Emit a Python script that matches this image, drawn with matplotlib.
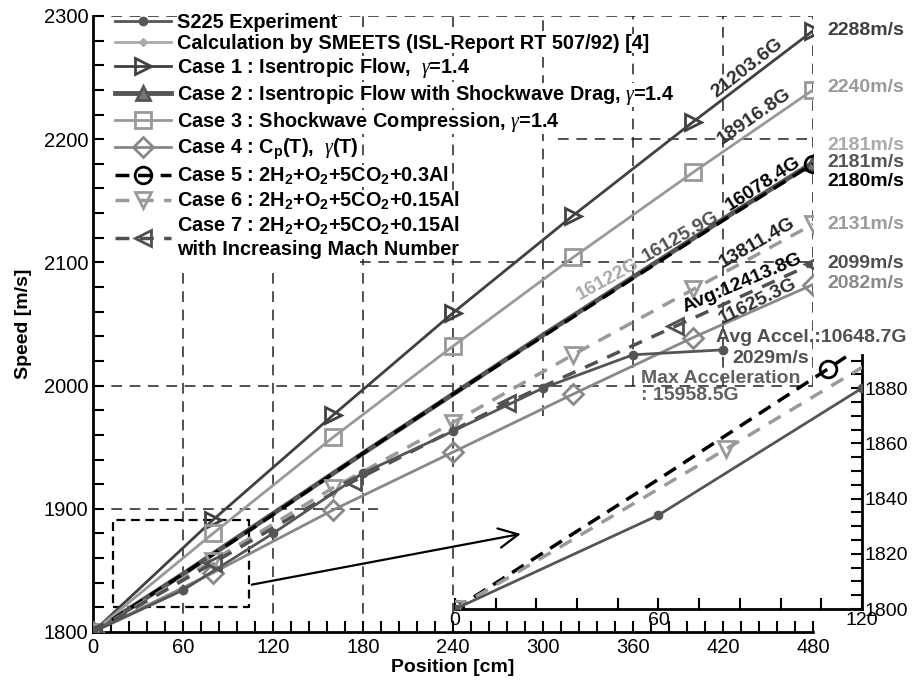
import numpy as np
import matplotlib.pyplot as plt
from matplotlib.ticker import MultipleLocator

plt.rcParams['font.family'] = ['Liberation Sans', 'DejaVu Sans']
plt.rcParams['mathtext.fontset'] = 'custom'
plt.rcParams['mathtext.rm'] = 'Liberation Sans:bold'
plt.rcParams['mathtext.it'] = 'Liberation Serif:italic'
plt.rcParams['mathtext.default'] = 'rm'

# Data
s225_x = [0, 60, 120, 180, 240, 300, 360, 420]
s225_v = [1800, 1834, 1880, 1929, 1963, 1998, 2025, 2029]

smeets_x = [0, 60, 120, 180, 240, 300, 360, 420, 480]
smeets_v = [1800, 1848, 1897, 1946, 1994, 2041, 2088, 2135, 2181]

case_x = [0, 80, 160, 240, 320, 400, 480]
case1_v = [1800, 1891, 1976, 2059, 2138, 2214, 2288]
case3_v = [1800, 1880, 1958, 2032, 2104, 2173, 2240]
case4_v = [1800, 1848, 1899, 1946, 1993, 2039, 2082]
case6_v = [1800, 1858, 1917, 1970, 2025, 2078, 2131]

case2_x = [0, 60, 120, 180, 240, 300, 360, 420, 480]
case2_v = [1800, 1847, 1896, 1945, 1993, 2041, 2088, 2135, 2181]

case5_x = [0, 60, 110, 180, 240, 300, 360, 420, 480]
case5_v = [1800, 1847, 1887, 1945, 1993, 2040, 2087, 2134, 2180]

case7_x = [0, 80, 173, 276, 388, 480]
case7_v = [1800, 1856, 1922, 1986, 2048, 2099]

labels = ['S225 Experiment',
          'Calculation by SMEETS (ISL-Report RT 507/92) [4]',
          'Case 1 : Isentropic Flow,  $\\mathit{\\gamma}$=1.4',
          'Case 2 : Isentropic Flow with Shockwave Drag, $\\mathit{\\gamma}$=1.4',
          'Case 3 : Shockwave Compression, $\\mathit{\\gamma}$=1.4',
          'Case 4 : C$_p$(T),  $\\mathit{\\gamma}$(T)',
          'Case 5 : 2H$_2$+O$_2$+5CO$_2$+0.3Al',
          'Case 6 : 2H$_2$+O$_2$+5CO$_2$+0.15Al',
          'Case 7 : 2H$_2$+O$_2$+5CO$_2$+0.15Al\nwith Increasing Mach Number']

# acceleration labels: text, position, rotation, colour
accel_text = ['21203.6G', '18916.8G', '16078.4G', '16125.9G', '16122G',
              '13811.4G', 'Avg:12413.8G', '11625.3G']
accel_pos = [(436, 2258), (441, 2218), (447, 2164), (392, 2121), (343, 2086),
             (443, 2116), (433, 2083), (443, 2068)]
accel_rot = [38, 35, 33, 30, 29, 30, 23, 26]
accel_col = ['#303030', '#303030', '#000000', '#505050', '#a8a8a8',
             '#202020', '#000000', '#303030']

c_s225 = '#555555'
c_smeets = '#aaaaaa'
c_case1 = '#404040'
c_case2 = '#555555'
c_case3 = '#999999'
c_case4 = '#888888'
c_case5 = '#000000'
c_case6 = '#9a9a9a'
c_case7 = '#505050'

fig = plt.figure(figsize=(9.14, 6.83), dpi=100)
ax = fig.add_axes([0.1018, 0.0747, 0.7877, 0.9019])

# partial dashed grid like the original
grid_kw = dict(color='#222222', lw=1.1, ls=(0, (7, 5)), zorder=1)
ax.hlines(1900, 0, 190, **grid_kw)
ax.hlines(2000, 0, 480, **grid_kw)
ax.hlines(2100, 178, 480, **grid_kw)
ax.hlines(2200, 310, 480, **grid_kw)
ax.hlines(2300, 0, 480, **grid_kw)
ax.vlines([60, 120], 1800, 2095, **grid_kw)
ax.vlines([180, 240], 1800, 2300, **grid_kw)
ax.vlines(300, 1975, 2300, **grid_kw)
ax.vlines([360, 420, 480], 2000, 2300, **grid_kw)

def draw_s225(a):
    a.plot(s225_x, s225_v, '-o', color=c_s225, lw=2, ms=6, label=labels[0], zorder=5)

def draw_case5(a, every):
    a.plot(case5_x, case5_v, ls=(0, (4, 2.5)), marker='o', color=c_case5, lw=2.5, ms=12,
           mfc='none', mew=2, markevery=every, label=labels[6], zorder=4)

def draw_case6(a):
    a.plot(case_x, case6_v, ls=(0, (4, 3)), marker='v', color=c_case6, lw=2.5, ms=11,
           mfc='none', mew=2, label=labels[7], zorder=4)

draw_s225(ax)
ax.plot(smeets_x, smeets_v, '-D', color=c_smeets, lw=2, ms=4, markevery=[0, -1],
        label=labels[1], zorder=3)
ax.plot(case_x, case1_v, '-', marker='>', color=c_case1, lw=2, ms=11, mfc='none',
        mew=2, label=labels[2], zorder=4)
ax.plot(case2_x, case2_v, '-', marker='^', color=c_case2, lw=3.5, ms=10, mfc='#777777',
        mew=2, markevery=[0, -1], label=labels[3], zorder=3)
ax.plot(case_x, case3_v, '-s', color=c_case3, lw=2, ms=11, mfc='none', mew=2,
        label=labels[4], zorder=4)
ax.plot(case_x, case4_v, '-D', color=c_case4, lw=2, ms=10, mfc='none', mew=2,
        label=labels[5], zorder=4)
draw_case5(ax, [0, -1])
draw_case6(ax)
ax.plot(case7_x, case7_v, ls=(0, (4, 3)), marker='<', color=c_case7, lw=2.5, ms=11,
        mfc='none', mew=2, label=labels[8], zorder=4)

ax.set_xlim(0, 480)
ax.set_ylim(1800, 2300)
ax.xaxis.set_major_locator(MultipleLocator(60))
ax.xaxis.set_minor_locator(MultipleLocator(12))
ax.yaxis.set_major_locator(MultipleLocator(100))
ax.yaxis.set_minor_locator(MultipleLocator(20))
ax.tick_params(which='both', direction='in', length=8, width=1.5, labelsize=14.5)
ax.tick_params(axis='x', pad=4)
for s in ['top', 'right']:
    ax.spines[s].set_visible(False)
for s in ['left', 'bottom']:
    ax.spines[s].set_linewidth(2)
ax.set_xlabel('Position [cm]', fontsize=14, fontweight='bold', labelpad=2)
ax.set_ylabel('Speed [m/s]', fontsize=14, fontweight='bold', labelpad=8)

leg = ax.legend(loc='upper left', bbox_to_anchor=(0.025, 1.012), borderaxespad=0,
                frameon=False, prop={'weight': 'bold', 'size': 14.3},
                handlelength=2.8, handletextpad=0.3, labelspacing=0.14, borderpad=0.2)
for t in leg.get_texts():
    t.set_bbox(dict(fc='white', ec='none', pad=0))
leg.set_zorder(10)

# acceleration labels along the curves
for txt, (x, y), r, c in zip(accel_text, accel_pos, accel_rot, accel_col):
    ax.text(x, y, txt, rotation=r, rotation_mode='anchor', ha='center', va='center',
            fontsize=14, fontweight='bold', color=c, zorder=8)

ax.text(415, 2039, 'Avg Accel.:10648.7G', fontsize=14, fontweight='bold',
        color='#505050', ha='left', va='center', clip_on=False, zorder=8)
ax.annotate('2029m/s', xy=(s225_x[-1], s225_v[-1]), xytext=(7, -6),
            textcoords='offset points', fontsize=14, fontweight='bold',
            color='#505050', ha='left', va='center', zorder=8)
ax.text(365, 1999, 'Max Acceleration\n: 15958.5G', fontsize=14, fontweight='bold',
        color='#606060', ha='left', va='center', linespacing=1.0, zorder=8)

# final speeds
end_lab = [('2288m/s', case1_v[-1], 0, c_case1),
           ('2240m/s', case3_v[-1], 1.5, c_case3),
           ('2181m/s', smeets_v[-1], 12, c_smeets),
           ('2181m/s', case2_v[-1], 0, c_case2),
           ('2180m/s', case5_v[-1], -13, c_case5),
           ('2131m/s', case6_v[-1], 0, c_case6),
           ('2099m/s', case7_v[-1], 0, c_case7),
           ('2082m/s', case4_v[-1], 1, c_case4)]
for txt, v, dy, c in end_lab:
    ax.annotate(txt, xy=(480, v), xytext=(10, dy), textcoords='offset points',
                fontsize=14, fontweight='bold', color=c, ha='left', va='center',
                annotation_clip=False)

# zoom box and arrow
ax.plot([13.3, 104, 104, 13.3, 13.3], [1820, 1820, 1891, 1891, 1820], color='black',
        lw=1.6, ls=(0, (4, 2.5)), zorder=2)
ax.annotate('', xy=(287, 1880), xytext=(104, 1838),
            arrowprops=dict(arrowstyle='->', color='black', lw=1.6,
                            mutation_scale=35), zorder=2)

# inset: enlarged view of the first 120 cm
ax2 = fig.add_axes([0.4978, 0.1083, 0.4453, 0.3719])
ax2.patch.set_visible(False)
draw_s225(ax2)
draw_case5(ax2, [0, 2])
draw_case6(ax2)
ax2.set_xlim(0, 120)
ax2.set_ylim(1800, 1892)
ax2.xaxis.set_major_locator(MultipleLocator(60))
ax2.xaxis.set_minor_locator(MultipleLocator(12))
ax2.yaxis.set_major_locator(MultipleLocator(20))
ax2.yaxis.set_minor_locator(MultipleLocator(5))
ax2.yaxis.tick_right()
ax2.tick_params(which='both', direction='in', length=8, width=1.5, labelsize=14, pad=2)
for s in ['top', 'left']:
    ax2.spines[s].set_visible(False)
for s in ['right', 'bottom']:
    ax2.spines[s].set_linewidth(2)

plt.savefig('out.png', dpi=100)
